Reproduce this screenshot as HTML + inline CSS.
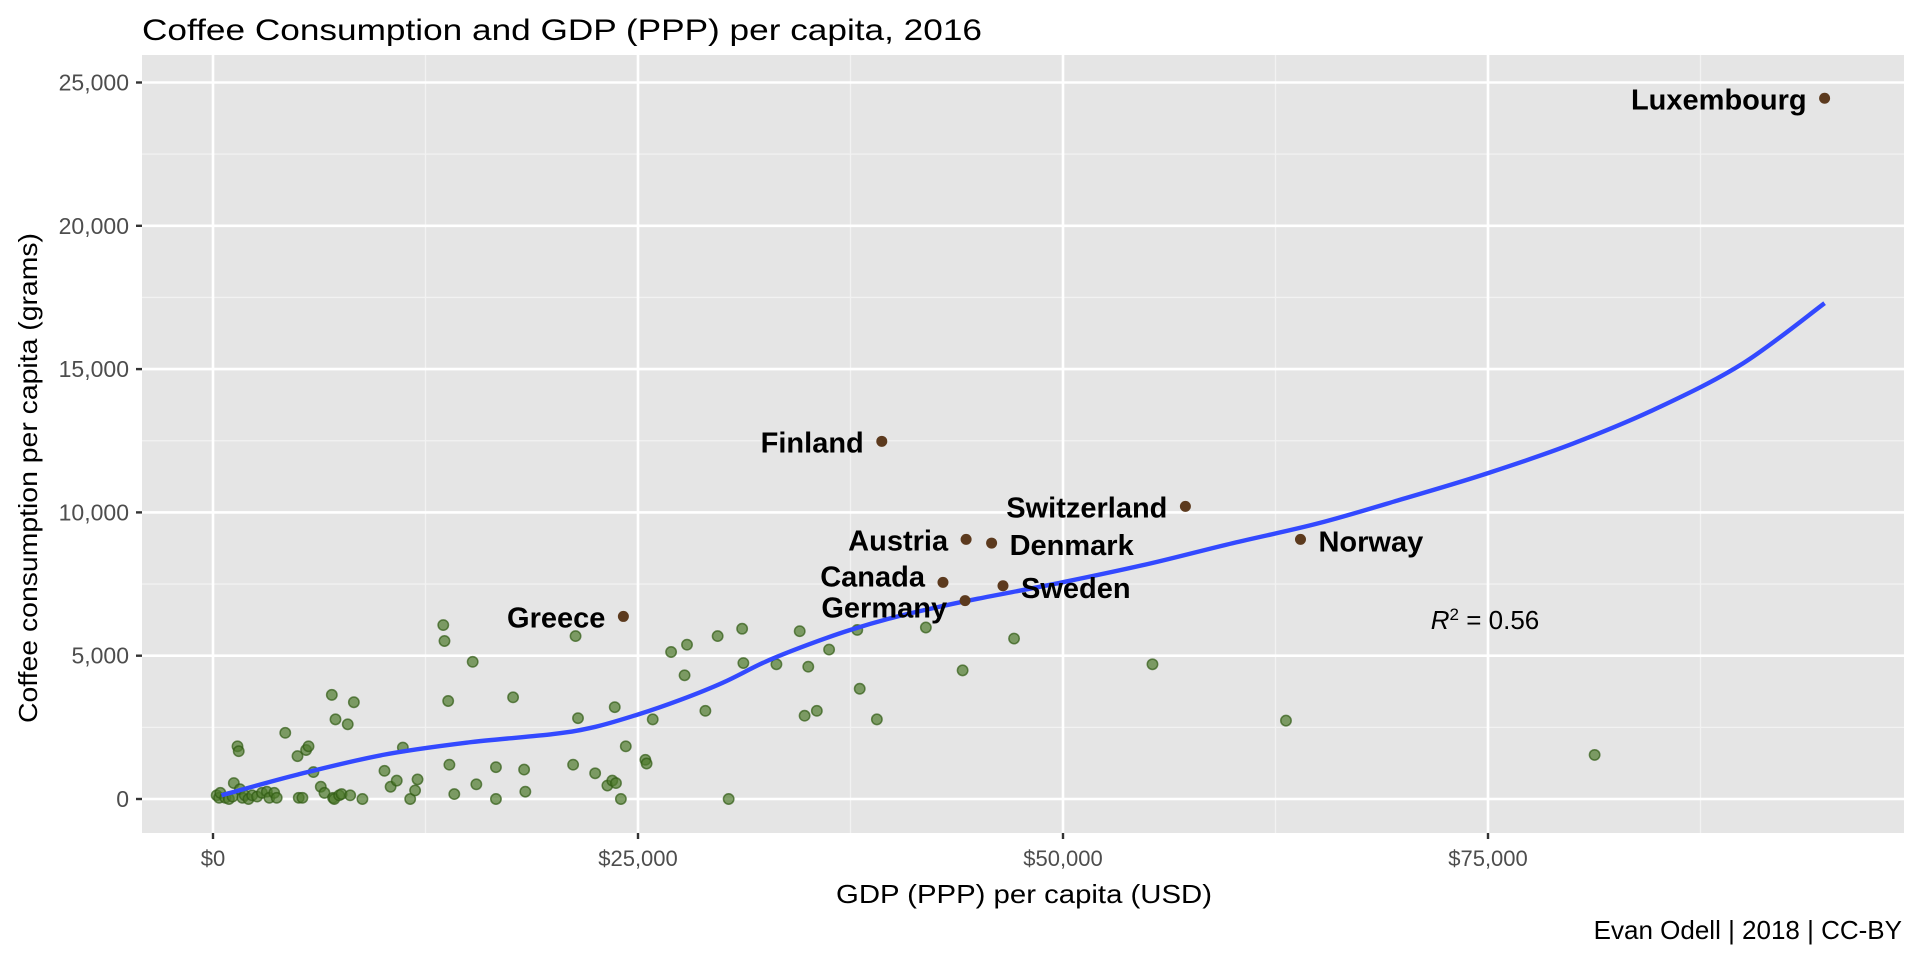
<!DOCTYPE html>
<html><head><meta charset="utf-8"><style>
html,body{margin:0;padding:0;background:#fff;}
svg{display:block;font-family:"Liberation Sans",Arial,sans-serif;}
</style></head><body>
<svg id="chart" width="1920" height="960" viewBox="0 0 1920 960" xmlns="http://www.w3.org/2000/svg">
<text x="142" y="40" font-size="30" fill="#000" textLength="840" lengthAdjust="spacingAndGlyphs">Coffee Consumption and GDP (PPP) per capita, 2016</text>
<rect x="142" y="55" width="1762" height="778" fill="#e5e5e5"/>
<g id="grid"></g>
<g id="axes"></g>
<g id="marks"></g>
<text x="1024" y="903" font-size="26" text-anchor="middle" fill="#000" textLength="376" lengthAdjust="spacingAndGlyphs">GDP (PPP) per capita (USD)</text>
<text transform="translate(37,478) rotate(-90)" font-size="26" text-anchor="middle" fill="#000" textLength="490" lengthAdjust="spacingAndGlyphs">Coffee consumption per capita (grams)</text>
<text x="1902" y="939" font-size="26" text-anchor="end" fill="#000">Evan Odell | 2018 | CC-BY</text>
<text x="1485" y="629" font-size="26" text-anchor="middle" fill="#000"><tspan font-style="italic">R</tspan><tspan baseline-shift="super" font-size="17">2</tspan><tspan> = 0.56</tspan></text>
</svg>
<script>
const gdp = [216,360,432,720,937,1153,1225,1441,1513,1585,1729,1873,2089,2306,2594,2882,3170,3314,3602,3747,4251,4971,5044,5260,5476,5620,5908,6340,6557,6989,7061,7133,7205,7421,7565,7926,8070,8286,8790,10087,10447,10808,11168,11600,11888,12032,13545,13617,13834,13906,14194,15275,15491,16644,16644,17652,18301,18373,21183,21327,21471,22480,23200,23488,23632,23704,23993,24281,25434,25506,25866,26947,27739,27883,28964,29685,30333,31126,31198,33143,34512,34800,35016,35520,36241,37898,38042,39051,41933,44095,47121,55263,63116,81272];
const coffee = [128,43,214,43,0,85,556,1838,1667,342,43,128,0,128,85,214,256,43,214,43,2308,1496,43,43,1710,1838,940,427,214,3633,43,0,2778,128,171,2607,128,3376,0,983,427,641,1795,0,299,684,6069,5513,3419,1197,171,4787,513,0,1111,3547,1026,256,1197,5684,2821,898,470,641,3205,556,0,1838,1368,1239,2778,5129,4317,5385,3077,5684,0,5941,4744,4701,5855,2906,4616,3077,5214,5898,3847,2778,5984,4488,5599,4701,2735,1539];
const labCountry = ["Luxembourg","Finland","Switzerland","Austria","Denmark","Norway","Canada","Sweden","Germany","Greece"];
const labGdp = [94800,39340,57200,44300,45800,63970,42940,46470,44240,24140];
const labCoffee = [24450,12480,10210,9060,8930,9060,7560,7440,6920,6370];
const labSide = ["left","left","left","left","right","right","left","right","left","left"];
const fitX = [500,5000,10000,15000,20000,22500,25000,27500,30000,32500,35000,37500,40000,42500,45000,50000,55000,60000,65000,70000,75000,80000,85000,90000,94800];
const fitY = [128,855,1540,1970,2265,2520,2950,3460,4060,4790,5385,5900,6330,6680,6990,7565,8200,8930,9615,10470,11370,12400,13650,15200,17300];
const xTicks = [0,25000,50000,75000];
const xTickLabels = ["$0","$25,000","$50,000","$75,000"];
const yTicks = [0,5000,10000,15000,20000,25000];
const yTickLabels = ["0","5,000","10,000","15,000","20,000","25,000"];

const NS="http://www.w3.org/2000/svg";
const X0=213, XK=425/25000, Y0=799, YK=143.3/5000;
const PL=142, PR=1904, PT=55, PB=833;
const labDy = {"Canada":-6,"Germany":7,"Denmark":2,"Sweden":2,"Norway":2};
function sx(v){return X0+v*XK;}
function sy(v){return Y0-v*YK;}
function mk(tag,attrs,parent){const e=document.createElementNS(NS,tag);for(const k in attrs)e.setAttribute(k,attrs[k]);parent.appendChild(e);return e;}
const grid=document.getElementById('grid'), axes=document.getElementById('axes'), marks=document.getElementById('marks');
function minorX(x){const l=mk('line',{x1:x,x2:x,y1:PT,y2:PB,stroke:'#f2f2f2','stroke-width':1.3},grid);
  
  }
function minorY(y){const l=mk('line',{x1:PL,x2:PR,y1:y,y2:y,stroke:'#f2f2f2','stroke-width':1.3},grid);
  
  }
for(let i=0;i<xTicks.length;i++){const x=sx(xTicks[i]+12500); if(x<PR) minorX(x);}
for(let i=0;i<=yTicks.length;i++){const base=i<yTicks.length?yTicks[i]:yTicks[yTicks.length-1]+5000; const y=sy(base-2500); if(y<PB&&y>PT) minorY(y);}
xTicks.forEach((v,i)=>{
  const x=sx(v);
  const g=mk('line',{x1:x,x2:x,y1:PT,y2:PB,stroke:'#fff','stroke-width':2.6},grid);
  
  
  const t=mk('line',{x1:x,x2:x,y1:PB,y2:PB+6,stroke:'#333','stroke-width':2.4},axes);
  
  
  const tx=mk('text',{x:x,y:866,'font-size':22,'text-anchor':'middle',fill:'#4d4d4d'},axes);
  tx.textContent=xTickLabels[i];
  
  
});
yTicks.forEach((v,i)=>{
  const y=sy(v);
  const g=mk('line',{x1:PL,x2:PR,y1:y,y2:y,stroke:'#fff','stroke-width':2.6},grid);
  
  
  const t=mk('line',{x1:PL-6,x2:PL,y1:y,y2:y,stroke:'#333','stroke-width':2.4},axes);
  
  
  const tx=mk('text',{x:129,y:y+8,'font-size':23,'text-anchor':'end',fill:'#4d4d4d'},axes);
  tx.textContent=yTickLabels[i];
  
  
});
gdp.forEach((v,i)=>{
  const c=mk('circle',{cx:sx(v),cy:sy(coffee[i]),r:5.2,fill:'#4e7a2c','fill-opacity':0.7,stroke:'#2f5a12','stroke-opacity':0.7,'stroke-width':1.5},marks);
  
  
});
const P=fitX.map((v,i)=>[sx(v),sy(fitY[i])]);
let d='M'+P[0][0].toFixed(1)+','+P[0][1].toFixed(1);
for(let i=0;i<P.length-1;i++){
  const p0=P[Math.max(0,i-1)],p1=P[i],p2=P[i+1],p3=P[Math.min(P.length-1,i+2)];
  const c1=[p1[0]+(p2[0]-p0[0])/6,p1[1]+(p2[1]-p0[1])/6];
  const c2=[p2[0]-(p3[0]-p1[0])/6,p2[1]-(p3[1]-p1[1])/6];
  d+='C'+c1[0].toFixed(1)+','+c1[1].toFixed(1)+' '+c2[0].toFixed(1)+','+c2[1].toFixed(1)+' '+p2[0].toFixed(1)+','+p2[1].toFixed(1);
}
const fl=mk('path',{d:d,fill:'none',stroke:'#3349ff','stroke-width':4.4,'stroke-linejoin':'round'},marks);


labCountry.forEach((n,i)=>{
  const x=sx(labGdp[i]), y=sy(labCoffee[i]);
  const c=mk('circle',{cx:x,cy:y,r:5.5,fill:'#5c3a1e'},marks);
  
  
  const left=labSide[i]==='left';
  const dy=labDy[n]||1;
  const t=mk('text',{x:left?x-18:x+18,y:y+dy+10,'font-size':29,'font-weight':'bold','text-anchor':left?'end':'start',fill:'#000'},marks);
  t.textContent=n;
  
  
});
</script>
</body></html>
